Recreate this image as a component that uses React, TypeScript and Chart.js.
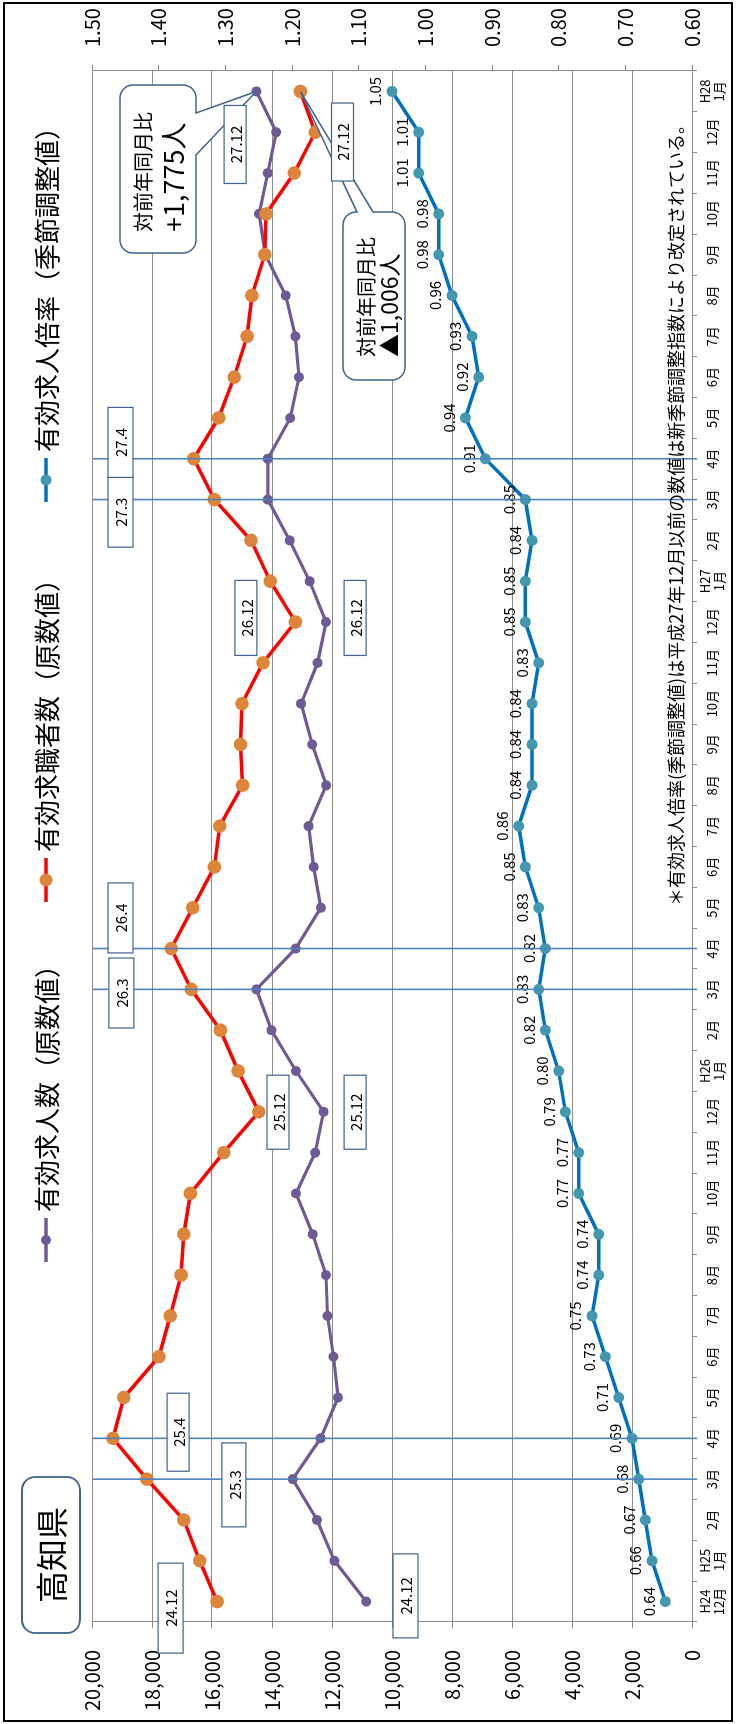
import React, { useEffect, useRef } from 'react';
import { Chart, registerables } from 'chart.js';

Chart.register(...registerables);

// ---------- data ----------
const categories: (string | string[])[] = [
  ['H24', '12月'],
  ['H25', '1月'], '2月', '3月', '4月', '5月', '6月', '7月', '8月', '9月', '10月', '11月', '12月',
  ['H26', '1月'], '2月', '3月', '4月', '5月', '6月', '7月', '8月', '9月', '10月', '11月', '12月',
  ['H27', '1月'], '2月', '3月', '4月', '5月', '6月', '7月', '8月', '9月', '10月', '11月', '12月',
  ['H28', '1月'],
];

const jobOffers = [
  10860, 11920, 12500, 13310, 12380, 11800, 11950, 12150, 12200, 12640, 13200, 12560, 12280,
  13200, 14020, 14520, 13210, 12370, 12610, 12780, 12190, 12660, 13030, 12480, 12200,
  12745, 13410, 14140, 14140, 13390, 13100, 13220, 13540, 14220, 14430, 14140, 13860,
  14520,
];

const jobSeekers = [
  15830, 16410, 16940, 18170, 19300, 18940, 17770, 17390, 17030, 16940, 16720, 15610, 14440,
  15130, 15720, 16690, 17360, 16640, 15920, 15740, 14980, 15050, 15000, 14300, 13220,
  14060, 14700, 15920, 16610, 15780, 15260, 14830, 14670, 14240, 14200, 13260, 12560,
  13054,
];

const openingsRatio = [
  0.64, 0.66, 0.67, 0.68, 0.69, 0.71, 0.73, 0.75, 0.74, 0.74, 0.77, 0.77, 0.79,
  0.8, 0.82, 0.83, 0.82, 0.83, 0.85, 0.86, 0.84, 0.84, 0.84, 0.83, 0.85,
  0.85, 0.84, 0.85, 0.91, 0.94, 0.92, 0.93, 0.96, 0.98, 0.98, 1.01, 1.01,
  1.05,
];

const seriesNames = ['有効求人数（原数値）', '有効求職者数（原数値）', '有効求人倍率（季節調整値）'];

const countAxis = { min: 0, max: 20000, step: 2000 };
const ratioAxis = { min: 0.6, max: 1.5, step: 0.1 };

const markerMonths = [3, 4, 15, 16, 27, 28];

const monthTags = [
  { text: '24.12', cat: -0.16, val: 17380 },
  { text: '24.12', cat: 0.14, val: 9550 },
  { text: '25.3', cat: 2.86, val: 15270 },
  { text: '25.4', cat: 4.15, val: 17130 },
  { text: '25.12', cat: 11.99, val: 13800 },
  { text: '25.12', cat: 11.99, val: 11230 },
  { text: '26.3', cat: 14.91, val: 19020 },
  { text: '26.4', cat: 16.75, val: 19050 },
  { text: '26.12', cat: 24.1, val: 14870 },
  { text: '26.12', cat: 24.1, val: 11230 },
  { text: '27.3', cat: 26.69, val: 19050 },
  { text: '27.4', cat: 28.4, val: 19050 },
  { text: '27.12', cat: 35.7, val: 15230 },
  { text: '27.12', cat: 35.76, val: 11650 },
];
const tagSizes = [
  [90, 25], [84, 25], [84, 24], [78, 22], [74, 22], [74, 22], [70, 25], [70, 25],
  [75, 22], [75, 22], [70, 25], [70, 25], [78, 22], [78, 22],
];

const calloutOffers = ['対前年同月比', '+1,775人'];
const calloutSeekers = ['対前年同月比', '▲1,006人'];
const titleText = '高知県';
const footnote = '＊有効求人倍率(季節調整値)は平成27年12月以前の数値は新季節調整指数により改定されている。';

// ---------- styles ----------
const W = 1724;
const H = 736;
const FONT = '"Noto Sans CJK JP", "Noto Sans", "DejaVu Sans", sans-serif';
const PURPLE = '#6f5a96';
const RED = '#ff0000';
const ORANGE = '#dd853b';
const BLUE = '#0070c0';
const TEAL = '#4398b0';
const GRID = '#8c8c8c';
const MARK = '#4f81bd';
const BORDER = '#41638f';

function roundRectPath(ctx: CanvasRenderingContext2D, x: number, y: number, w: number, h: number, r: number) {
  ctx.beginPath();
  ctx.moveTo(x + r, y);
  ctx.lineTo(x + w - r, y);
  ctx.arcTo(x + w, y, x + w, y + r, r);
  ctx.lineTo(x + w, y + h - r);
  ctx.arcTo(x + w, y + h, x + w - r, y + h, r);
  ctx.lineTo(x + r, y + h);
  ctx.arcTo(x, y + h, x, y + h - r, r);
  ctx.lineTo(x, y + r);
  ctx.arcTo(x, y, x + r, y, r);
  ctx.closePath();
}

function calloutPath(
  ctx: CanvasRenderingContext2D, x: number, y: number, w: number, h: number, r: number,
  side: 'bottom' | 'right', a: number, b: number, tx: number, ty: number,
) {
  ctx.beginPath();
  ctx.moveTo(x + r, y);
  ctx.lineTo(x + w - r, y);
  ctx.arcTo(x + w, y, x + w, y + r, r);
  if (side === 'right') {
    ctx.lineTo(x + w, a);
    ctx.lineTo(tx, ty);
    ctx.lineTo(x + w, b);
  }
  ctx.lineTo(x + w, y + h - r);
  ctx.arcTo(x + w, y + h, x + w - r, y + h, r);
  if (side === 'bottom') {
    ctx.lineTo(a, y + h);
    ctx.lineTo(tx, ty);
    ctx.lineTo(b, y + h);
  }
  ctx.lineTo(x + r, y + h);
  ctx.arcTo(x, y + h, x, y + h - r, r);
  ctx.lineTo(x, y + r);
  ctx.arcTo(x, y, x + r, y, r);
  ctx.closePath();
}

const decor = {
  id: 'decor',
  beforeDraw(chart: any) {
    const ctx = chart.ctx as CanvasRenderingContext2D;
    ctx.save();
    ctx.fillStyle = '#ffffff';
    ctx.fillRect(0, 0, chart.width, chart.height);
    ctx.restore();
  },
  afterDatasetsDraw(chart: any) {
    const ctx = chart.ctx as CanvasRenderingContext2D;
    const area = chart.chartArea;
    const xs = chart.scales.x;
    const ys = chart.scales.y;
    ctx.save();

    // ratio value labels
    const rMeta = chart.getDatasetMeta(2);
    ctx.font = `15px ${FONT}`;
    ctx.fillStyle = '#000';
    ctx.textAlign = 'center';
    ctx.textBaseline = 'bottom';
    rMeta.data.forEach((pt: any, i: number) => {
      ctx.fillText(openingsRatio[i].toFixed(2), pt.x, pt.y - 9);
    });

    // month marker lines
    ctx.strokeStyle = MARK;
    ctx.lineWidth = 1.6;
    markerMonths.forEach((i) => {
      const x = xs.getPixelForValue(i);
      ctx.beginPath();
      ctx.moveTo(x, area.top + 1);
      ctx.lineTo(x, area.bottom + 5);
      ctx.stroke();
    });

    // callouts
    const pOff = chart.getDatasetMeta(0).data[jobOffers.length - 1];
    const pSeek = chart.getDatasetMeta(1).data[jobSeekers.length - 1];
    ctx.lineWidth = 1.5;
    ctx.strokeStyle = BORDER;
    ctx.fillStyle = '#fff';
    calloutPath(ctx, 1471, 120, 168, 76, 13, 'bottom', 1611, 1569, pOff.x, pOff.y);
    ctx.fill();
    ctx.stroke();
    calloutPath(ctx, 1344, 343, 168, 62, 13, 'right', 357, 373, pSeek.x, pSeek.y);
    ctx.fill();
    ctx.stroke();
    ctx.fillStyle = '#000';
    ctx.textAlign = 'left';
    ctx.textBaseline = 'middle';
    ctx.font = `20px ${FONT}`;
    ctx.fillText(calloutOffers[0], 1492, 143);
    ctx.font = `27px ${FONT}`;
    ctx.fillText(calloutOffers[1], 1492, 174);
    ctx.font = `20px ${FONT}`;
    ctx.fillText(calloutSeekers[0], 1367, 366);
    ctx.font = `23px ${FONT}`;
    ctx.fillText(calloutSeekers[1], 1367, 389);

    // month tags
    monthTags.forEach((t, i) => {
      const [w, h] = tagSizes[i];
      const cx = xs.getPixelForValue(t.cat);
      const cy = ys.getPixelForValue(t.val);
      ctx.fillStyle = '#fff';
      ctx.fillRect(cx - w / 2, cy - h / 2, w, h);
      ctx.strokeStyle = BORDER;
      ctx.lineWidth = 1.2;
      ctx.strokeRect(cx - w / 2, cy - h / 2, w, h);
      ctx.fillStyle = '#000';
      ctx.font = `15px ${FONT}`;
      ctx.textAlign = 'center';
      ctx.textBaseline = 'middle';
      ctx.fillText(t.text, cx, cy + 1);
    });

    ctx.restore();
  },
  afterDraw(chart: any) {
    const ctx = chart.ctx as CanvasRenderingContext2D;
    ctx.save();

    // legend
    const legendY = 46;
    const starts = [462, 822, 1222];
    const lineCols = [PURPLE, RED, BLUE];
    const dotCols = [PURPLE, ORANGE, TEAL];
    const dotR = [5, 6.5, 5.5];
    starts.forEach((x0, i) => {
      ctx.strokeStyle = lineCols[i];
      ctx.lineWidth = 3.5;
      ctx.beginPath();
      ctx.moveTo(x0, legendY);
      ctx.lineTo(x0 + 44, legendY);
      ctx.stroke();
      ctx.fillStyle = dotCols[i];
      ctx.beginPath();
      ctx.arc(x0 + 22, legendY, dotR[i], 0, Math.PI * 2);
      ctx.fill();
      ctx.fillStyle = '#000';
      ctx.font = `26px ${FONT}`;
      ctx.textAlign = 'left';
      ctx.textBaseline = 'middle';
      ctx.fillText(seriesNames[i], x0 + 50, legendY + 1);
    });

    // title box
    ctx.fillStyle = '#fff';
    ctx.strokeStyle = BORDER;
    ctx.lineWidth = 1.8;
    roundRectPath(ctx, 91, 22, 156, 58, 13);
    ctx.fill();
    ctx.stroke();
    ctx.fillStyle = '#000';
    ctx.font = `32px ${FONT}`;
    ctx.textAlign = 'center';
    ctx.textBaseline = 'middle';
    ctx.fillText(titleText, 169, 52);

    // footnote
    ctx.font = `18px ${FONT}`;
    ctx.textAlign = 'left';
    ctx.textBaseline = 'middle';
    ctx.fillText(footnote, 818, 676);

    // outer frame
    ctx.strokeStyle = '#000';
    ctx.lineWidth = 2;
    ctx.strokeRect(3, 4, W - 6, H - 8);

    ctx.restore();
  },
};

export default function App() {
  const ref = useRef<HTMLCanvasElement>(null);

  useEffect(() => {
    if (!ref.current) return;
    Chart.defaults.font.family = FONT;
    Chart.defaults.color = '#000';
    const chart = new Chart(ref.current, {
      type: 'line',
      data: {
        labels: categories,
        datasets: [
          {
            label: seriesNames[0],
            data: jobOffers,
            yAxisID: 'y',
            borderColor: PURPLE,
            backgroundColor: PURPLE,
            borderWidth: 3.2,
            pointRadius: 5,
            pointBorderWidth: 0,
            pointBackgroundColor: PURPLE,
            tension: 0,
            order: 1,
          },
          {
            label: seriesNames[1],
            data: jobSeekers,
            yAxisID: 'y',
            borderColor: RED,
            backgroundColor: ORANGE,
            borderWidth: 3.5,
            pointRadius: 6.8,
            pointBorderWidth: 0,
            pointBackgroundColor: ORANGE,
            tension: 0,
            order: 0,
          },
          {
            label: seriesNames[2],
            data: openingsRatio,
            yAxisID: 'y1',
            borderColor: BLUE,
            backgroundColor: TEAL,
            borderWidth: 3.5,
            pointRadius: 5.5,
            pointBorderWidth: 0,
            pointBackgroundColor: TEAL,
            tension: 0,
            order: 2,
          },
        ],
      },
      options: {
        responsive: false,
        animation: false,
        events: [],
        layout: { padding: { left: 14, right: 0, top: 92, bottom: 0 } },
        plugins: {
          legend: { display: false },
          tooltip: { enabled: false },
        },
        scales: {
          x: {
            type: 'category',
            offset: true,
            grid: { display: true, drawOnChartArea: false, drawTicks: true, tickLength: 5, color: GRID, offset: true },
            border: { display: true, color: GRID, width: 1 },
            ticks: {
              autoSkip: false,
              maxRotation: 0,
              minRotation: 0,
              padding: 8,
              crossAlign: 'center',
              font: { size: 13, family: FONT, lineHeight: 1.1 },
              color: '#000',
            },
            afterFit: (s: any) => { s.height = 44; },
          },
          y: {
            position: 'left',
            min: countAxis.min,
            max: countAxis.max,
            grid: { color: GRID, lineWidth: 1, tickLength: 6, drawTicks: true },
            border: { display: true, color: GRID },
            ticks: {
              stepSize: countAxis.step,
              padding: 22,
              font: { size: 20, family: FONT },
              color: '#000',
              callback: (v: any) => Number(v).toLocaleString('en-US'),
            },
            afterFit: (s: any) => { s.width = 88; },
          },
          y1: {
            position: 'right',
            min: ratioAxis.min,
            max: ratioAxis.max,
            grid: { drawOnChartArea: false, drawTicks: true, tickLength: 6, color: GRID },
            border: { display: true, color: GRID },
            ticks: {
              stepSize: ratioAxis.step,
              padding: 18,
              font: { size: 20, family: FONT },
              color: '#000',
              callback: (v: any) => Number(v).toFixed(2),
            },
            afterFit: (s: any) => { s.width = 71; },
          },
        },
      },
      plugins: [decor],
    } as any);
    return () => chart.destroy();
  }, []);

  return (
    <div style={{ position: 'absolute', left: 0, top: 0, width: 736, height: 1724, overflow: 'hidden', background: '#fff' }}>
      <div
        style={{
          position: 'absolute',
          left: 0,
          top: 0,
          width: W,
          height: H,
          transformOrigin: '0 0',
          transform: `translateY(${W}px) rotate(-90deg)`,
        }}
      >
        <canvas ref={ref} width={W} height={H} style={{ width: W, height: H, display: 'block' }} />
      </div>
    </div>
  );
}
